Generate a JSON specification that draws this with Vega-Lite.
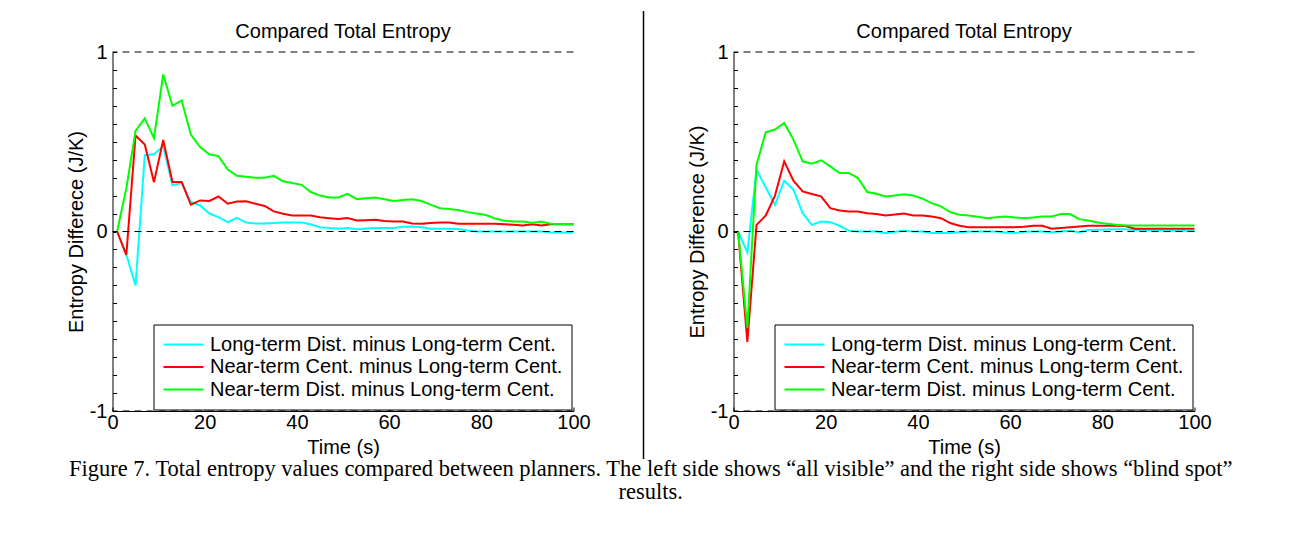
{
  "$schema": "https://vega.github.io/schema/vega-lite/v6.json",
  "background": "white",
  "padding": {"left": 65.5, "top": 10, "right": 0, "bottom": 0},
  "title": {
    "text": ["Figure 7. Total entropy values compared between planners. The left side shows “all visible” and the right side shows “blind spot”", "results."],
    "orient": "bottom", "anchor": "middle", "font": "Liberation Serif", "fontSize": 22.5, "fontWeight": "normal",
    "color": "black", "lineHeight": 22.6, "offset": -1.5, "dx": 12
  },
  "datasets": {
    "left": [
      {"t": 1, "a": 0, "b": 0, "c": 0},
      {"t": 3, "a": -0.13, "b": -0.13, "c": 0.24},
      {"t": 5, "a": -0.30, "b": 0.535, "c": 0.56},
      {"t": 7, "a": 0.425, "b": 0.485, "c": 0.63},
      {"t": 9, "a": 0.43, "b": 0.275, "c": 0.52},
      {"t": 11, "a": 0.475, "b": 0.51, "c": 0.875},
      {"t": 13, "a": 0.257, "b": 0.276, "c": 0.70},
      {"t": 15, "a": 0.27, "b": 0.276, "c": 0.73},
      {"t": 17, "a": 0.165, "b": 0.149, "c": 0.54},
      {"t": 19, "a": 0.145, "b": 0.173, "c": 0.47},
      {"t": 21, "a": 0.10, "b": 0.17, "c": 0.43},
      {"t": 23, "a": 0.08, "b": 0.195, "c": 0.42},
      {"t": 25, "a": 0.052, "b": 0.155, "c": 0.345},
      {"t": 27, "a": 0.076, "b": 0.167, "c": 0.31},
      {"t": 29, "a": 0.05, "b": 0.168, "c": 0.305},
      {"t": 31, "a": 0.045, "b": 0.155, "c": 0.30},
      {"t": 33, "a": 0.045, "b": 0.142, "c": 0.30},
      {"t": 35, "a": 0.047, "b": 0.112, "c": 0.31},
      {"t": 37, "a": 0.05, "b": 0.099, "c": 0.28},
      {"t": 39, "a": 0.05, "b": 0.089, "c": 0.27},
      {"t": 41, "a": 0.05, "b": 0.089, "c": 0.26},
      {"t": 43, "a": 0.04, "b": 0.089, "c": 0.22},
      {"t": 45, "a": 0.024, "b": 0.08, "c": 0.20},
      {"t": 47, "a": 0.02, "b": 0.074, "c": 0.19},
      {"t": 49, "a": 0.015, "b": 0.069, "c": 0.19},
      {"t": 51, "a": 0.019, "b": 0.075, "c": 0.21},
      {"t": 53, "a": 0.013, "b": 0.061, "c": 0.18},
      {"t": 55, "a": 0.017, "b": 0.063, "c": 0.185},
      {"t": 57, "a": 0.019, "b": 0.065, "c": 0.19},
      {"t": 59, "a": 0.019, "b": 0.058, "c": 0.18},
      {"t": 61, "a": 0.019, "b": 0.056, "c": 0.17},
      {"t": 63, "a": 0.027, "b": 0.056, "c": 0.175},
      {"t": 65, "a": 0.028, "b": 0.045, "c": 0.18},
      {"t": 67, "a": 0.024, "b": 0.043, "c": 0.17},
      {"t": 69, "a": 0.015, "b": 0.048, "c": 0.15},
      {"t": 71, "a": 0.015, "b": 0.05, "c": 0.13},
      {"t": 73, "a": 0.015, "b": 0.05, "c": 0.125},
      {"t": 75, "a": 0.014, "b": 0.043, "c": 0.12},
      {"t": 77, "a": 0.006, "b": 0.043, "c": 0.108},
      {"t": 79, "a": 0, "b": 0.043, "c": 0.10},
      {"t": 81, "a": 0, "b": 0.043, "c": 0.092},
      {"t": 83, "a": 0, "b": 0.043, "c": 0.072},
      {"t": 85, "a": 0, "b": 0.04, "c": 0.06},
      {"t": 87, "a": 0, "b": 0.038, "c": 0.056},
      {"t": 89, "a": 0, "b": 0.034, "c": 0.056},
      {"t": 91, "a": 0, "b": 0.04, "c": 0.047},
      {"t": 93, "a": 0, "b": 0.034, "c": 0.056},
      {"t": 95, "a": -0.004, "b": 0.04, "c": 0.043},
      {"t": 97, "a": -0.005, "b": 0.04, "c": 0.042},
      {"t": 99, "a": -0.005, "b": 0.04, "c": 0.04},
      {"t": 100, "a": -0.005, "b": 0.04, "c": 0.04}
    ],
    "right": [
      {"t": 1, "a": 0, "b": 0, "c": 0},
      {"t": 3, "a": -0.117, "b": -0.615, "c": -0.535},
      {"t": 5, "a": 0.345, "b": 0.037, "c": 0.372},
      {"t": 7, "a": 0.245, "b": 0.089, "c": 0.553},
      {"t": 9, "a": 0.149, "b": 0.20, "c": 0.568},
      {"t": 11, "a": 0.283, "b": 0.391, "c": 0.605},
      {"t": 13, "a": 0.233, "b": 0.283, "c": 0.512},
      {"t": 15, "a": 0.102, "b": 0.223, "c": 0.391},
      {"t": 17, "a": 0.037, "b": 0.209, "c": 0.378},
      {"t": 19, "a": 0.056, "b": 0.196, "c": 0.397},
      {"t": 21, "a": 0.052, "b": 0.13, "c": 0.363},
      {"t": 23, "a": 0.032, "b": 0.117, "c": 0.326},
      {"t": 25, "a": 0.004, "b": 0.112, "c": 0.326},
      {"t": 27, "a": 0, "b": 0.112, "c": 0.298},
      {"t": 29, "a": 0, "b": 0.102, "c": 0.22},
      {"t": 31, "a": 0, "b": 0.097, "c": 0.21},
      {"t": 33, "a": -0.009, "b": 0.089, "c": 0.195},
      {"t": 35, "a": -0.002, "b": 0.095, "c": 0.20},
      {"t": 37, "a": 0.004, "b": 0.10, "c": 0.207},
      {"t": 39, "a": 0, "b": 0.089, "c": 0.20},
      {"t": 41, "a": 0, "b": 0.089, "c": 0.183},
      {"t": 43, "a": -0.009, "b": 0.084, "c": 0.158},
      {"t": 45, "a": -0.009, "b": 0.074, "c": 0.14},
      {"t": 47, "a": -0.009, "b": 0.047, "c": 0.108},
      {"t": 49, "a": -0.004, "b": 0.032, "c": 0.093},
      {"t": 51, "a": 0, "b": 0.024, "c": 0.089},
      {"t": 53, "a": 0, "b": 0.024, "c": 0.082},
      {"t": 55, "a": 0, "b": 0.024, "c": 0.074},
      {"t": 57, "a": 0, "b": 0.024, "c": 0.08},
      {"t": 59, "a": -0.005, "b": 0.024, "c": 0.084},
      {"t": 61, "a": -0.009, "b": 0.024, "c": 0.078},
      {"t": 63, "a": -0.002, "b": 0.026, "c": 0.074},
      {"t": 65, "a": 0, "b": 0.032, "c": 0.078},
      {"t": 67, "a": 0, "b": 0.032, "c": 0.084},
      {"t": 69, "a": -0.004, "b": 0.015, "c": 0.084},
      {"t": 71, "a": 0, "b": 0.02, "c": 0.097},
      {"t": 73, "a": 0.004, "b": 0.024, "c": 0.097},
      {"t": 75, "a": -0.004, "b": 0.028, "c": 0.069},
      {"t": 77, "a": 0.009, "b": 0.032, "c": 0.061},
      {"t": 79, "a": 0.01, "b": 0.032, "c": 0.05},
      {"t": 81, "a": 0.011, "b": 0.032, "c": 0.043},
      {"t": 83, "a": 0.013, "b": 0.032, "c": 0.038},
      {"t": 85, "a": 0.012, "b": 0.03, "c": 0.034},
      {"t": 87, "a": 0.009, "b": 0.015, "c": 0.034},
      {"t": 89, "a": 0.008, "b": 0.015, "c": 0.034},
      {"t": 91, "a": 0.006, "b": 0.015, "c": 0.034},
      {"t": 93, "a": 0.005, "b": 0.015, "c": 0.034},
      {"t": 95, "a": 0.004, "b": 0.015, "c": 0.034},
      {"t": 97, "a": 0.004, "b": 0.015, "c": 0.034},
      {"t": 99, "a": 0.004, "b": 0.015, "c": 0.034},
      {"t": 100, "a": 0.004, "b": 0.015, "c": 0.034}
    ],
    "refs": [{"v": 1}, {"v": 0}, {"v": -1}],
    "divider": [{"top": 1.228, "bottom": -1.267}]
  },
  "spacing": 41.5,
  "hconcat": [
    {
      "width": 461, "height": 359,
      "title": {"text": "Compared Total Entropy", "offset": 0},
      "layer": [
        {
          "data": {"name": "left"},
          "transform": [{"fold": ["a", "b", "c"], "as": ["s", "v"]}],
          "mark": {"type": "line", "strokeWidth": 2},
          "encoding": {
            "x": {"field": "t", "type": "quantitative", "scale": {"domain": [0, 100], "nice": false},
                  "axis": {"values": [0, 20, 40, 60, 80, 100], "title": "Time (s)", "labelPadding": 5, "titlePadding": 5}},
            "y": {"field": "v", "type": "quantitative", "scale": {"domain": [-1, 1], "nice": false, "zero": false},
                  "axis": {"values": [-1, -0.9, -0.8, -0.7, -0.6, -0.5, -0.4, -0.3, -0.2, -0.1, 0, 0.1, 0.2, 0.3, 0.4, 0.5, 0.6, 0.7, 0.8, 0.9, 1],
                           "labelExpr": "datum.value === 1 ? '1' : datum.value === 0 ? '0' : datum.value === -1 ? '-1' : ''",
                           "title": "Entropy Differece (J/K)", "labelPadding": 9.5, "titlePadding": 3}},
            "color": {"field": "s", "type": "nominal",
                      "scale": {"domain": ["a", "b", "c"], "range": ["#00ffff", "#ff0000", "#00ff00"]},
                      "legend": {"orient": "none", "legendX": 41, "legendY": 272.5, "title": null,
                                 "symbolType": "stroke", "symbolSize": 1600, "symbolStrokeWidth": 2, "clipHeight": 22,
                                 "rowPadding": 0.5, "labelFontSize": 20, "labelFont": "Liberation Sans", "labelColor": "black",
                                 "labelOffset": 5.5, "labelLimit": 600, "padding": 9, "strokeColor": "black", "fillColor": "white",
                                 "labelExpr": "datum.value == 'a' ? 'Long-term Dist. minus Long-term Cent.' : datum.value == 'b' ? 'Near-term Cent. minus Long-term Cent.' : 'Near-term Dist. minus Long-term Cent.'"}}
          }
        },
        {
          "data": {"name": "refs"},
          "mark": {"type": "rule", "strokeDash": [7, 5], "color": "black", "strokeWidth": 1},
          "encoding": {"y": {"field": "v", "type": "quantitative",
                  "axis": {"values": [-1, -0.9, -0.8, -0.7, -0.6, -0.5, -0.4, -0.3, -0.2, -0.1, 0, 0.1, 0.2, 0.3, 0.4, 0.5, 0.6, 0.7, 0.8, 0.9, 1],
                           "labelExpr": "datum.value === 1 ? '1' : datum.value === 0 ? '0' : datum.value === -1 ? '-1' : ''",
                           "title": "Entropy Differece (J/K)", "labelPadding": 9.5, "titlePadding": 3}}}
        }
      ]
    },
    {
      "width": 1, "height": 359,
      "title": {"text": " ", "orient": "left", "fontSize": 10, "offset": 0},
      "data": {"name": "divider"},
      "mark": {"type": "rule", "color": "black", "strokeWidth": 1.5},
      "encoding": {
        "y": {"field": "top", "type": "quantitative", "scale": {"domain": [-1, 1], "nice": false, "zero": false}, "axis": null},
        "y2": {"field": "bottom"}
      }
    },
    {
      "width": 461, "height": 359,
      "title": {"text": "Compared Total Entropy", "offset": 0},
      "layer": [
        {
          "data": {"name": "right"},
          "transform": [{"fold": ["a", "b", "c"], "as": ["s", "v"]}],
          "mark": {"type": "line", "strokeWidth": 2},
          "encoding": {
            "x": {"field": "t", "type": "quantitative", "scale": {"domain": [0, 100], "nice": false},
                  "axis": {"values": [0, 20, 40, 60, 80, 100], "title": "Time (s)", "labelPadding": 5, "titlePadding": 5}},
            "y": {"field": "v", "type": "quantitative", "scale": {"domain": [-1, 1], "nice": false, "zero": false},
                  "axis": {"values": [-1, -0.9, -0.8, -0.7, -0.6, -0.5, -0.4, -0.3, -0.2, -0.1, 0, 0.1, 0.2, 0.3, 0.4, 0.5, 0.6, 0.7, 0.8, 0.9, 1],
                           "labelExpr": "datum.value === 1 ? '1' : datum.value === 0 ? '0' : datum.value === -1 ? '-1' : ''",
                           "title": "Entropy Difference (J/K)", "labelPadding": 9.5, "titlePadding": 3}},
            "color": {"field": "s", "type": "nominal",
                      "scale": {"domain": ["a", "b", "c"], "range": ["#00ffff", "#ff0000", "#00ff00"]},
                      "legend": {"orient": "none", "legendX": 41, "legendY": 272.5, "title": null,
                                 "symbolType": "stroke", "symbolSize": 1600, "symbolStrokeWidth": 2, "clipHeight": 22,
                                 "rowPadding": 0.5, "labelFontSize": 20, "labelFont": "Liberation Sans", "labelColor": "black",
                                 "labelOffset": 5.5, "labelLimit": 600, "padding": 9, "strokeColor": "black", "fillColor": "white",
                                 "labelExpr": "datum.value == 'a' ? 'Long-term Dist. minus Long-term Cent.' : datum.value == 'b' ? 'Near-term Cent. minus Long-term Cent.' : 'Near-term Dist. minus Long-term Cent.'"}}
          }
        },
        {
          "data": {"name": "refs"},
          "mark": {"type": "rule", "strokeDash": [7, 5], "color": "black", "strokeWidth": 1},
          "encoding": {"y": {"field": "v", "type": "quantitative",
                  "axis": {"values": [-1, -0.9, -0.8, -0.7, -0.6, -0.5, -0.4, -0.3, -0.2, -0.1, 0, 0.1, 0.2, 0.3, 0.4, 0.5, 0.6, 0.7, 0.8, 0.9, 1],
                           "labelExpr": "datum.value === 1 ? '1' : datum.value === 0 ? '0' : datum.value === -1 ? '-1' : ''",
                           "title": "Entropy Difference (J/K)", "labelPadding": 9.5, "titlePadding": 3}}}
        }
      ]
    }
  ],
  "resolve": {"legend": {"color": "independent"}},
  "config": {
    "view": {"stroke": null},
    "font": "Liberation Sans",
    "axis": {"grid": false, "domainColor": "black", "tickColor": "black", "labelColor": "black", "titleColor": "black",
             "labelFont": "Liberation Sans", "titleFont": "Liberation Sans", "labelFontSize": 20, "titleFontSize": 20,
             "titleFontWeight": "normal", "labelFlush": false, "labelOverlap": false, "tickSize": -4},
    "title": {"font": "Liberation Sans", "fontSize": 20, "fontWeight": "normal", "color": "black"}
  }
}
